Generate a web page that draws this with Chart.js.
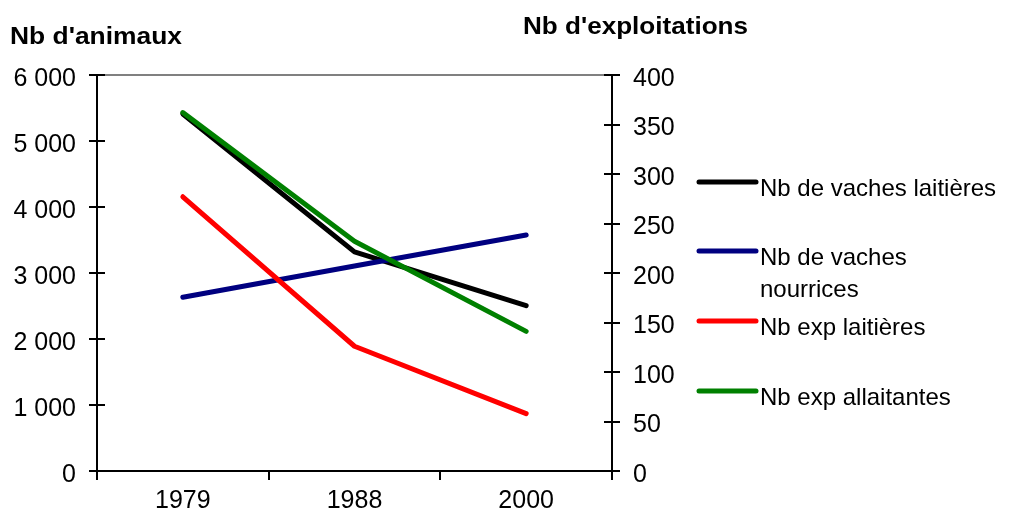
<!DOCTYPE html>
<html>
<head>
<meta charset="utf-8">
<script src="https://cdn.jsdelivr.net/npm/chart.js@4.4.0/dist/chart.umd.min.js"></script>
<style>
  html, body { margin: 0; padding: 0; background: #fff; }
  #wrap { width: 1020px; height: 522px; }
</style>
</head>
<body>
<div id="wrap"><canvas id="graph1" width="1020" height="522"></canvas></div>
<script>
const years = ["1979", "1988", "2000"];
const vachesLaitieres = [5410, 3320, 2505];
const vachesNourrices = [2632, 3106, 3576];
const expLaitieres = [277, 126, 58];
const expAllaitantes = [362, 232, 141];
const seriesNames = ["Nb de vaches laitières", ["Nb de vaches", "nourrices"], "Nb exp laitières", "Nb exp allaitantes"];

const black = "#000000";
const navy = "#000080";
const red = "#ff0000";
const green = "#008000";
const font = "'Liberation Sans', Arial, sans-serif";

function fmt(v) {
  return String(v).replace(/\B(?=(\d{3})+(?!\d))/g, " ");
}

// titles, top border, crossing ticks, legend
const decor = {
  id: "decor",
  afterDraw(chart) {
    const ctx = chart.ctx;
    const a = chart.chartArea;
    ctx.save();
    ctx.strokeStyle = "#808080";
    ctx.lineWidth = 2;
    ctx.beginPath();
    ctx.moveTo(a.left, a.top);
    ctx.lineTo(a.right, a.top);
    ctx.stroke();

    ctx.strokeStyle = "#000";
    ctx.lineWidth = 2;
    ctx.beginPath();
    for (const id of ["y", "y2"]) {
      const s = chart.scales[id];
      const x = id === "y" ? a.left : a.right;
      s.ticks.forEach((t, i) => {
        const py = Math.round(s.getPixelForTick(i));
        ctx.moveTo(x - 8, py);
        ctx.lineTo(x + 8, py);
      });
    }
    ctx.stroke();

    ctx.fillStyle = "#000";
    ctx.font = "bold 24px " + font;
    ctx.textBaseline = "alphabetic";
    ctx.textAlign = "left";
    const title = (txt, x, y, w) => {
      ctx.save();
      ctx.translate(x, y);
      ctx.scale(w / ctx.measureText(txt).width, 1);
      ctx.fillText(txt, 0, 0);
      ctx.restore();
    };
    title("Nb d'animaux", 10, 44, 172);
    title("Nb d'exploitations", 523, 34, 225);

    ctx.font = "24px " + font;
    const colors = [black, navy, red, green];
    const ys = [182, 251, 321, 391];
    colors.forEach((c, i) => {
      ctx.strokeStyle = c;
      ctx.lineWidth = 5;
      ctx.lineCap = "round";
      ctx.beginPath();
      ctx.moveTo(699, ys[i]);
      ctx.lineTo(756, ys[i]);
      ctx.stroke();
      const lines = [].concat(seriesNames[i]);
      lines.forEach((l, j) => ctx.fillText(l, 760, ys[i] + 14 + j * 32));
    });
    ctx.restore();
  }
};

const line = (label, data, color, axis, order) => ({
  label, data, yAxisID: axis, order,
  borderColor: color, backgroundColor: color,
  borderWidth: 5, pointRadius: 0, tension: 0,
  borderCapStyle: "round", borderJoinStyle: "round", fill: false
});

new Chart(document.getElementById("graph1"), {
  type: "line",
  data: {
    labels: years,
    datasets: [
      line("Nb de vaches laitières", vachesLaitieres, black, "y", 3),
      line("Nb de vaches nourrices", vachesNourrices, navy, "y", 2),
      line("Nb exp laitières", expLaitieres, red, "y2", 1),
      line("Nb exp allaitantes", expAllaitantes, green, "y2", 0)
    ]
  },
  options: {
    responsive: false,
    animation: false,
    layout: { padding: { top: 75, right: 328, left: 0, bottom: 0 } },
    plugins: { legend: { display: false }, tooltip: { enabled: false } },
    scales: {
      x: {
        offset: true,
        grid: { offset: true, drawOnChartArea: false, drawTicks: true, tickLength: 9, color: "#000", lineWidth: 2 },
        border: { color: "#000", width: 2 },
        ticks: { color: "#000", font: { family: font, size: 25 }, padding: 6 },
        afterFit(s) { s.height = 51; }
      },
      y: {
        position: "left",
        min: 0, max: 6000,
        grid: { display: false },
        border: { color: "#000", width: 2 },
        ticks: { stepSize: 1000, color: "#000", font: { family: font, size: 25 }, padding: 13, labelOffset: 4, callback: fmt },
        afterFit(s) { s.width = 97; }
      },
      y2: {
        position: "right",
        min: 0, max: 400,
        grid: { display: false },
        border: { color: "#000", width: 2 },
        ticks: { stepSize: 50, color: "#000", font: { family: font, size: 25 }, padding: 13, labelOffset: 4 },
        afterFit(s) { s.width = 80; }
      }
    }
  },
  plugins: [decor]
});
</script>
</body>
</html>
